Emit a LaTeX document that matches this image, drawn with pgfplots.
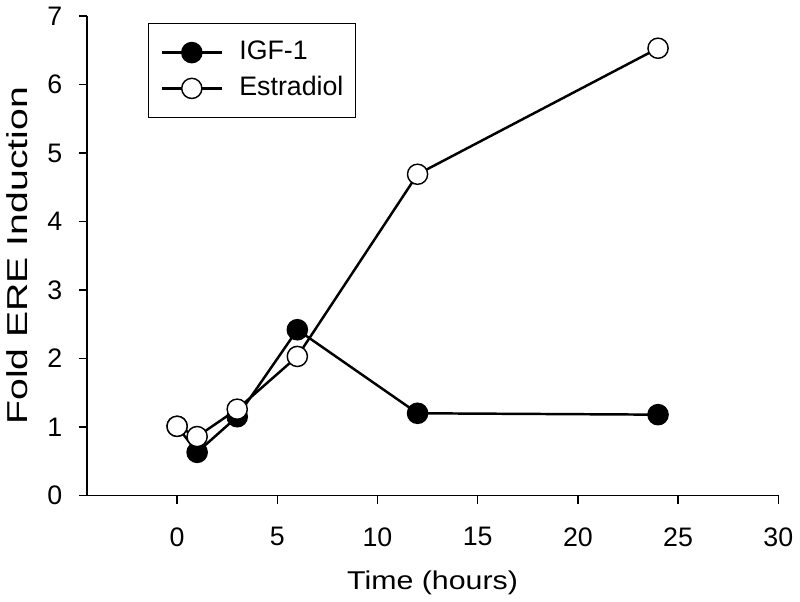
\documentclass[border=0pt]{standalone}
\usepackage{pgfplots}
\pgfplotsset{compat=1.18}
\usepackage{fontspec}
\setmainfont{Liberation Sans}

\begin{document}
\begin{tikzpicture}
\begin{axis}[
    scale only axis,
    width=336pt, height=233pt,
    xmin=-4.5, xmax=30,
    ymin=0, ymax=7,
    xtick={0,5,...,30},
    ytick={0,1,...,7},
    axis x line*=bottom,
    axis y line*=left,
    tick align=outside,
    major tick length=4pt,
    axis line style={line width=0.7pt},
    tick style={line width=0.7pt, black},
    /pgf/number format/assume math mode=true,
    tick label style={font=\fontsize{13}{15}\selectfont},
    xticklabel style={yshift=-8pt},
    yticklabel style={xshift=-4.5pt},
    xlabel={Time (hours)},
    ylabel={Fold ERE Induction},
    xlabel style={font=\fontsize{12.5}{15}\selectfont, xscale=1.18, yshift=-5pt},
    ylabel style={font=\fontsize{14}{16}\selectfont, xscale=1.36, yshift=2.5pt},
    legend style={at={(0.088,0.986)}, anchor=north west, draw=black,
        line width=0.6pt, font=\fontsize{13}{15}\selectfont,
        inner xsep=6pt, inner ysep=5.5pt, row sep=0pt,
        nodes={inner sep=0pt, text height=12pt, text depth=5.4pt},
        /tikz/every odd column/.append style={column sep=8pt}},
    legend cell align=left,
    legend image code/.code={
        \draw[mark repeat=2,mark phase=2] plot coordinates {(0cm,0cm)(0.51cm,0cm)(1.02cm,0cm)};},
]
\addplot[black, line width=1.2pt, mark=*, mark size=4.9pt,
    mark options={fill=black, line width=0.7pt}]
    coordinates {(0,1.01)(1,0.63)(3,1.15)(6,2.42)(12,1.2)(24,1.18)};
\addlegendentry{IGF-1}
\addplot[black, line width=1.2pt, mark=*, mark size=4.9pt,
    mark options={fill=white, line width=0.7pt}]
    coordinates {(0,1.01)(1,0.86)(3,1.26)(6,2.03)(12,4.69)(24,6.53)};
\addlegendentry{Estradiol}
\end{axis}
\end{tikzpicture}
\end{document}
